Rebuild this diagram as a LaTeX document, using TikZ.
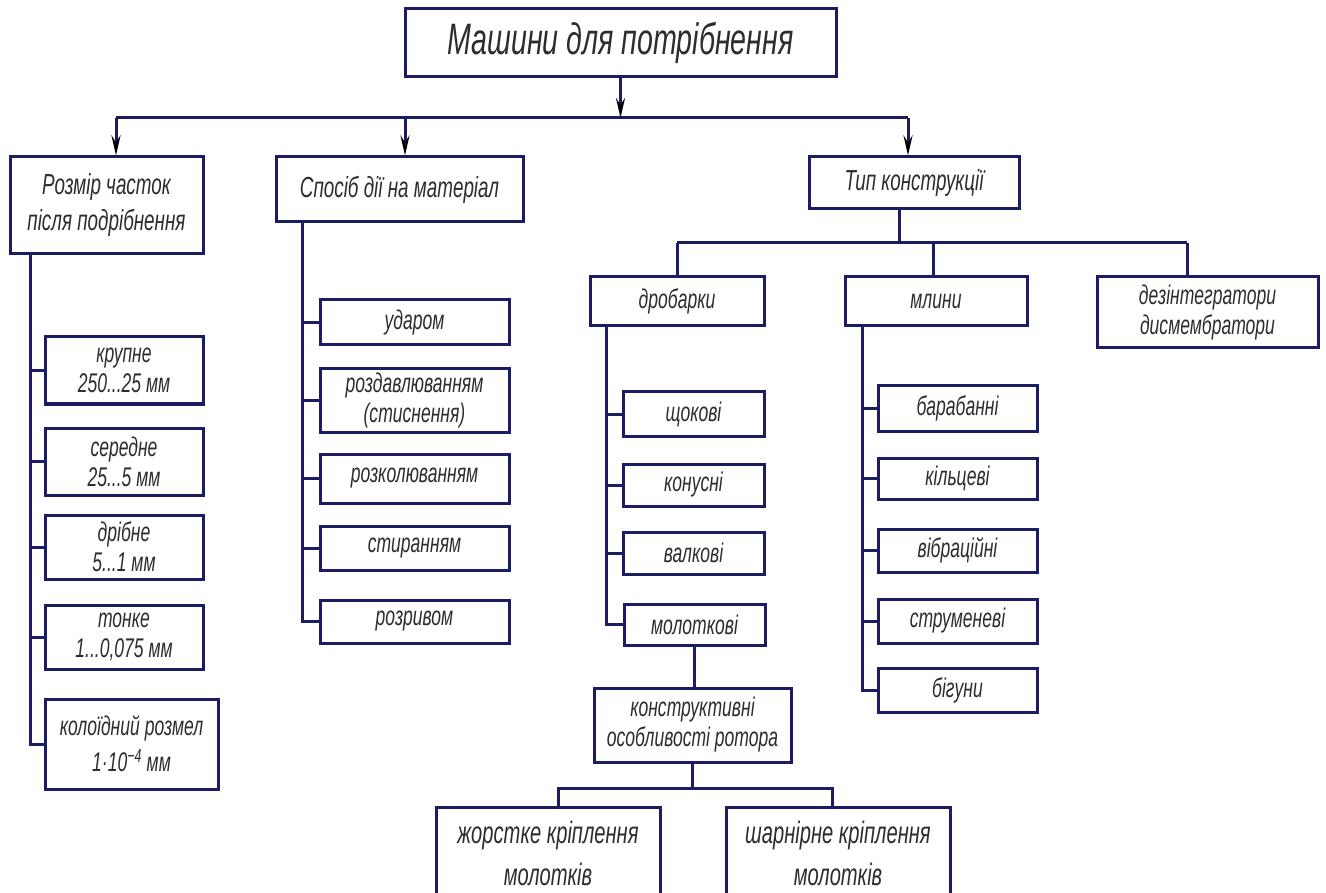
\documentclass[tikz,border=0pt]{standalone}
\usepackage{fontspec}
\newfontfamily\gost{Liberation Sans}[FakeStretch=0.65]
\usetikzlibrary{arrows.meta}
\definecolor{navy}{RGB}{28,28,100}
\definecolor{ink}{RGB}{45,45,45}

\begin{document}
\begin{tikzpicture}[x=1pt, y=-1pt,
  box/.style={draw=navy, line width=3pt, align=center, inner sep=0pt, text=ink,
              font=\gost\itshape\fontsize{27}{30}\selectfont},
  head/.style={font=\gost\itshape\fontsize{29}{36}\selectfont},
  link/.style={draw=navy, line width=3pt},
  ar/.style={link, -{Stealth[length=20pt, width=9pt, inset=7pt, color=black]}}]

\useasboundingbox (0,0) rectangle (1326,893);

% top level
\node[box, minimum width=431pt, minimum height=68pt,
      font=\gost\itshape\fontsize{44}{50}\selectfont] (main) at (620.5,43)
  {Машини для потрібнення};

\node[box, head, minimum width=193pt, minimum height=97pt] (size)   at (106.5,205.5)
  {Розмір часток\\після подрібнення};
\node[box, head, minimum width=247pt, minimum height=65pt] (action) at (399.5,189.5)
  {Спосіб дії на матеріал};
\node[box, head, minimum width=210pt, minimum height=52pt] (constr) at (914,183)
  {Тип конструкції};

\coordinate (b1) at (116,118);
\coordinate (b2) at (405,118);
\coordinate (b3) at (908,118);
\draw[link] (b1) -- (b3);
\draw[ar] (main.south) -- (main.south |- b1);
\draw[ar] (b1) -- (b1 |- size.north);
\draw[ar] (b2) -- (b2 |- action.north);
\draw[ar] (b3) -- (b3 |- constr.north);

% particle size
\node[box, minimum width=158pt, minimum height=67pt] (coarse)  at (124,370.5) {крупне\\250...25 мм};
\node[box, minimum width=158pt, minimum height=67pt] (medium)  at (124,461.5) {середне\\25...5 мм};
\node[box, minimum width=158pt, minimum height=64pt] (fine)    at (124,547)   {дрібне\\5...1 мм};
\node[box, minimum width=158pt, minimum height=64pt] (thin)    at (124,637)   {тонке\\1...0,075 мм};
\node[box, minimum width=173pt, minimum height=90pt] (colloid) at (131.5,744)
  {колоїдний розмел\\[6pt]1·10\textsuperscript{−4} мм};

\coordinate (s0) at (30,254);
\foreach \n in {coarse,medium,fine,thin,colloid}
  \draw[link] (s0) |- (\n.west);

% way of action
\node[box, minimum width=189pt, minimum height=45pt] (impact) at (414.5,322.5) {ударом};
\node[box, minimum width=189pt, minimum height=63pt] (press)  at (414.5,400.5) {роздавлюванням\\(стиснення)};
\node[box, minimum width=189pt, minimum height=49pt] (split)  at (414.5,478.5) {розколюванням};
\node[box, minimum width=189pt, minimum height=44pt] (grind)  at (414.5,548)   {стиранням};
\node[box, minimum width=189pt, minimum height=43pt] (tear)   at (414.5,621.5) {розривом};

\coordinate (a0) at (302,222);
\foreach \n in {impact,press,split,grind,tear}
  \draw[link] (a0) |- (\n.west);

% design type
\node[box, minimum width=174pt, minimum height=49pt] (crush)  at (677,301.5)  {дробарки};
\node[box, minimum width=182pt, minimum height=49pt] (mill)   at (936,301.5)  {млини};
\node[box, minimum width=221pt, minimum height=71pt] (disint) at (1207.5,312.5)
  {дезінтегратори\\дисмембратори};

\coordinate (t0) at (899,243);
\coordinate (t1) at (677,243);
\coordinate (t2) at (933,243);
\coordinate (t3) at (1187,243);
\draw[link] (t0 |- constr.south) -- (t0);
\draw[link] (t1) -- (t3);
\draw[link] (t1) -- (t1 |- crush.north);
\draw[link] (t2) -- (t2 |- mill.north);
\draw[link] (t3) -- (t3 |- disint.north);

% crushers
\node[box, minimum width=141pt, minimum height=44pt] (jaw)    at (693.5,414)   {щокові};
\node[box, minimum width=141pt, minimum height=42pt] (cone)   at (693.5,485)   {конусні};
\node[box, minimum width=141pt, minimum height=42pt] (roll)   at (693.5,553)   {валкові};
\node[box, minimum width=141pt, minimum height=41pt] (hammer) at (694.5,624.5) {молоткові};

\coordinate (c0) at (606,326);
\foreach \n in {jaw,cone,roll,hammer}
  \draw[link] (c0) |- (\n.west);

\node[box, minimum width=197pt, minimum height=74pt] (rotor) at (692.5,725)
  {конструктивні\\особливості ротора};
\draw[link] (hammer.south) -- (hammer.south |- rotor.north);

\node[box, minimum width=224pt, minimum height=93pt,
      font=\gost\itshape\fontsize{31}{42}\selectfont] (rigid)  at (548,853.5)
  {жорстке кріплення\\молотків};
\node[box, minimum width=224pt, minimum height=93pt,
      font=\gost\itshape\fontsize{31}{42}\selectfont] (hinged) at (838,853.5)
  {шарнірне кріплення\\молотків};

\coordinate (r1) at (558,788);
\coordinate (r2) at (832,788);
\draw[link] (rotor.south) -- (rotor.south |- r1);
\draw[link] (r1 |- rigid.north) -- (r1) -- (r2) -- (r2 |- hinged.north);

% mills
\node[box, minimum width=159pt, minimum height=45pt] (drum)   at (957.5,408.5) {барабанні};
\node[box, minimum width=159pt, minimum height=41pt] (ring)   at (957.5,478.5) {кільцеві};
\node[box, minimum width=159pt, minimum height=43pt] (vibr)   at (957.5,550.5) {вібраційні};
\node[box, minimum width=159pt, minimum height=44pt] (jet)    at (957.5,621)   {струменеві};
\node[box, minimum width=159pt, minimum height=44pt] (runner) at (957.5,690)   {бігуни};

\coordinate (m0) at (862,326);
\foreach \n in {drum,ring,vibr,jet,runner}
  \draw[link] (m0) |- (\n.west);
\end{tikzpicture}
\end{document}
